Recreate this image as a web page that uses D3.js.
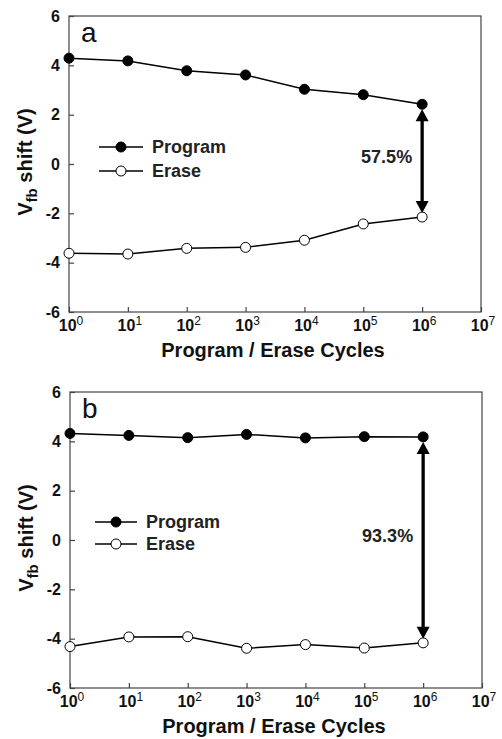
<!DOCTYPE html>
<html>
<head>
<meta charset="utf-8">
<script src="https://cdn.jsdelivr.net/npm/d3@7"></script>
<style>
  body { margin: 0; background: #fff; }
  svg { display: block; font-family: "Liberation Sans", Arial, sans-serif; }
</style>
</head>
<body>
<svg id="chart" width="502" height="739"></svg>
<script>
// cycle counts on the x axis
const cycles = [1, 10, 100, 1e3, 1e4, 1e5, 1e6];
const xTickExps = [0, 1, 2, 3, 4, 5, 6, 7];
const yTicks = [-6, -4, -2, 0, 2, 4, 6];

// panel a
const programA = [4.29, 4.18, 3.78, 3.61, 3.03, 2.81, 2.42];
const eraseA = [-3.62, -3.65, -3.42, -3.38, -3.09, -2.43, -2.15];
// panel b
const programB = [4.32, 4.24, 4.15, 4.28, 4.14, 4.19, 4.18];
const eraseB = [-4.32, -3.93, -3.92, -4.39, -4.24, -4.38, -4.17];

const panelNames = ['a', 'b'];
const windowLabels = ['57.5%', '93.3%'];
const seriesNames = ['Program', 'Erase'];

const svg = d3.select('#chart');

const panels = [
	{ name: panelNames[0], program: programA, erase: eraseA, label: windowLabels[0],
		left: 69, top: 16, legend: { x: 99, y: 147, len: 44, gap: 24 } },
	{ name: panelNames[1], program: programB, erase: eraseB, label: windowLabels[1],
		left: 70, top: 392, legend: { x: 95, y: 522, len: 42, gap: 22 } }
];

const w = 412, h = 296;

panels.forEach(p => drawPanel(p));

function drawPanel(p) {
	const g = svg.append('g').attr('transform', `translate(${p.left},${p.top})`);

	const x = d3.scaleLog().domain([1, 1e7]).range([0, w]);
	const y = d3.scaleLinear().domain([-6, 6]).range([h, 0]);

	// frame
	g.append('rect')
		.attr('width', w).attr('height', h)
		.attr('fill', 'none').attr('stroke', '#444').attr('stroke-width', 1.2);

	// y axis, inward ticks
	const yAxis = g.append('g')
		.call(d3.axisLeft(y).tickValues(yTicks).tickSize(-5).tickPadding(9).tickFormat(d3.format('d')));
	yAxis.select('.domain').remove();
	yAxis.selectAll('line').attr('stroke', '#444').attr('stroke-width', 1.2);
	yAxis.selectAll('text')
		.attr('fill', '#111').style('font-size', '16px').style('font-weight', 'bold')
		.text(d => d < 0 ? '-' + Math.abs(d) : d);

	// x axis, inward ticks, labels 10^n
	const xAxis = g.append('g').attr('transform', `translate(0,${h})`)
		.call(d3.axisBottom(x).tickValues(xTickExps.map(e => Math.pow(10, e))).tickSize(-5).tickFormat(''));
	xAxis.select('.domain').remove();
	xAxis.selectAll('line').attr('stroke', '#444').attr('stroke-width', 1.2);

	const xl = g.append('g').selectAll('text').data(xTickExps).join('text')
		.attr('x', e => x(Math.pow(10, e)) + 2)
		.attr('y', h + 19)
		.attr('text-anchor', 'middle')
		.attr('fill', '#111')
		.style('font-size', '16px').style('font-weight', 'bold');
	xl.append('tspan').text('10');
	xl.append('tspan').attr('dy', -6).style('font-size', '12px').style('font-weight', 'normal').text(e => e);

	// axis titles
	g.append('text')
		.attr('x', w / 2 - 2).attr('y', h + 45)
		.attr('text-anchor', 'middle')
		.style('font-size', '20px').style('font-weight', 'bold').attr('fill', '#111')
		.text('Program / Erase Cycles');

	const yt = g.append('text')
		.attr('transform', `translate(${-37},${h / 2 - 2}) rotate(-90)`)
		.attr('text-anchor', 'middle')
		.style('font-size', '20px').style('font-weight', 'bold').attr('fill', '#111');
	yt.append('tspan').text('V');
	yt.append('tspan').attr('dy', 5).style('font-size', '15px').text('fb');
	yt.append('tspan').attr('dy', -5).text(' shift (V)');

	// panel letter
	g.append('text')
		.attr('x', 12).attr('y', 26)
		.style('font-size', '28px').attr('fill', '#111')
		.text(p.name);

	// lines and markers
	const line = d3.line().x((d, i) => x(cycles[i])).y(d => y(d));

	[p.program, p.erase].forEach((vals, k) => {
		g.append('path')
			.attr('d', line(vals))
			.attr('fill', 'none').attr('stroke', '#000').attr('stroke-width', 1.5);
		g.append('g').selectAll('circle').data(vals).join('circle')
			.attr('cx', (d, i) => x(cycles[i]))
			.attr('cy', d => y(d))
			.attr('r', 5)
			.attr('fill', k === 0 ? '#000' : '#fff')
			.attr('stroke', '#000').attr('stroke-width', 1);
	});

	// double arrow at last point
	const last = cycles.length - 1;
	const ax = x(cycles[last]);
	const y1 = y(p.program[last]) + 5;
	const y2 = y(p.erase[last]) - 4;
	const head = 12, hw = 6.5;
	g.append('line')
		.attr('x1', ax).attr('x2', ax)
		.attr('y1', y1 + head - 1).attr('y2', y2 - head + 1)
		.attr('stroke', '#000').attr('stroke-width', 3.3);
	g.append('path')
		.attr('d', `M${ax},${y1}L${ax - hw},${y1 + head}L${ax + hw},${y1 + head}Z`)
		.attr('fill', '#000');
	g.append('path')
		.attr('d', `M${ax},${y2}L${ax - hw},${y2 - head}L${ax + hw},${y2 - head}Z`)
		.attr('fill', '#000');

	g.append('text')
		.attr('x', ax - 10).attr('y', (y1 + y2) / 2 + 2)
		.attr('text-anchor', 'end')
		.style('font-size', '18px').style('font-weight', 'bold').attr('fill', '#222')
		.text(p.label);

	// legend
	const lg = svg.append('g');
	seriesNames.forEach((name, k) => {
		const ly = p.legend.y + k * p.legend.gap;
		lg.append('line')
			.attr('x1', p.legend.x).attr('x2', p.legend.x + p.legend.len)
			.attr('y1', ly).attr('y2', ly)
			.attr('stroke', '#000').attr('stroke-width', 1.5);
		lg.append('circle')
			.attr('cx', p.legend.x + p.legend.len / 2).attr('cy', ly).attr('r', 5)
			.attr('fill', k === 0 ? '#000' : '#fff').attr('stroke', '#000');
		lg.append('text')
			.attr('x', p.legend.x + p.legend.len + 9).attr('y', ly + 6)
			.style('font-size', '18px').style('font-weight', 'bold').attr('fill', '#222')
			.text(name);
	});
}
</script>
</body>
</html>
